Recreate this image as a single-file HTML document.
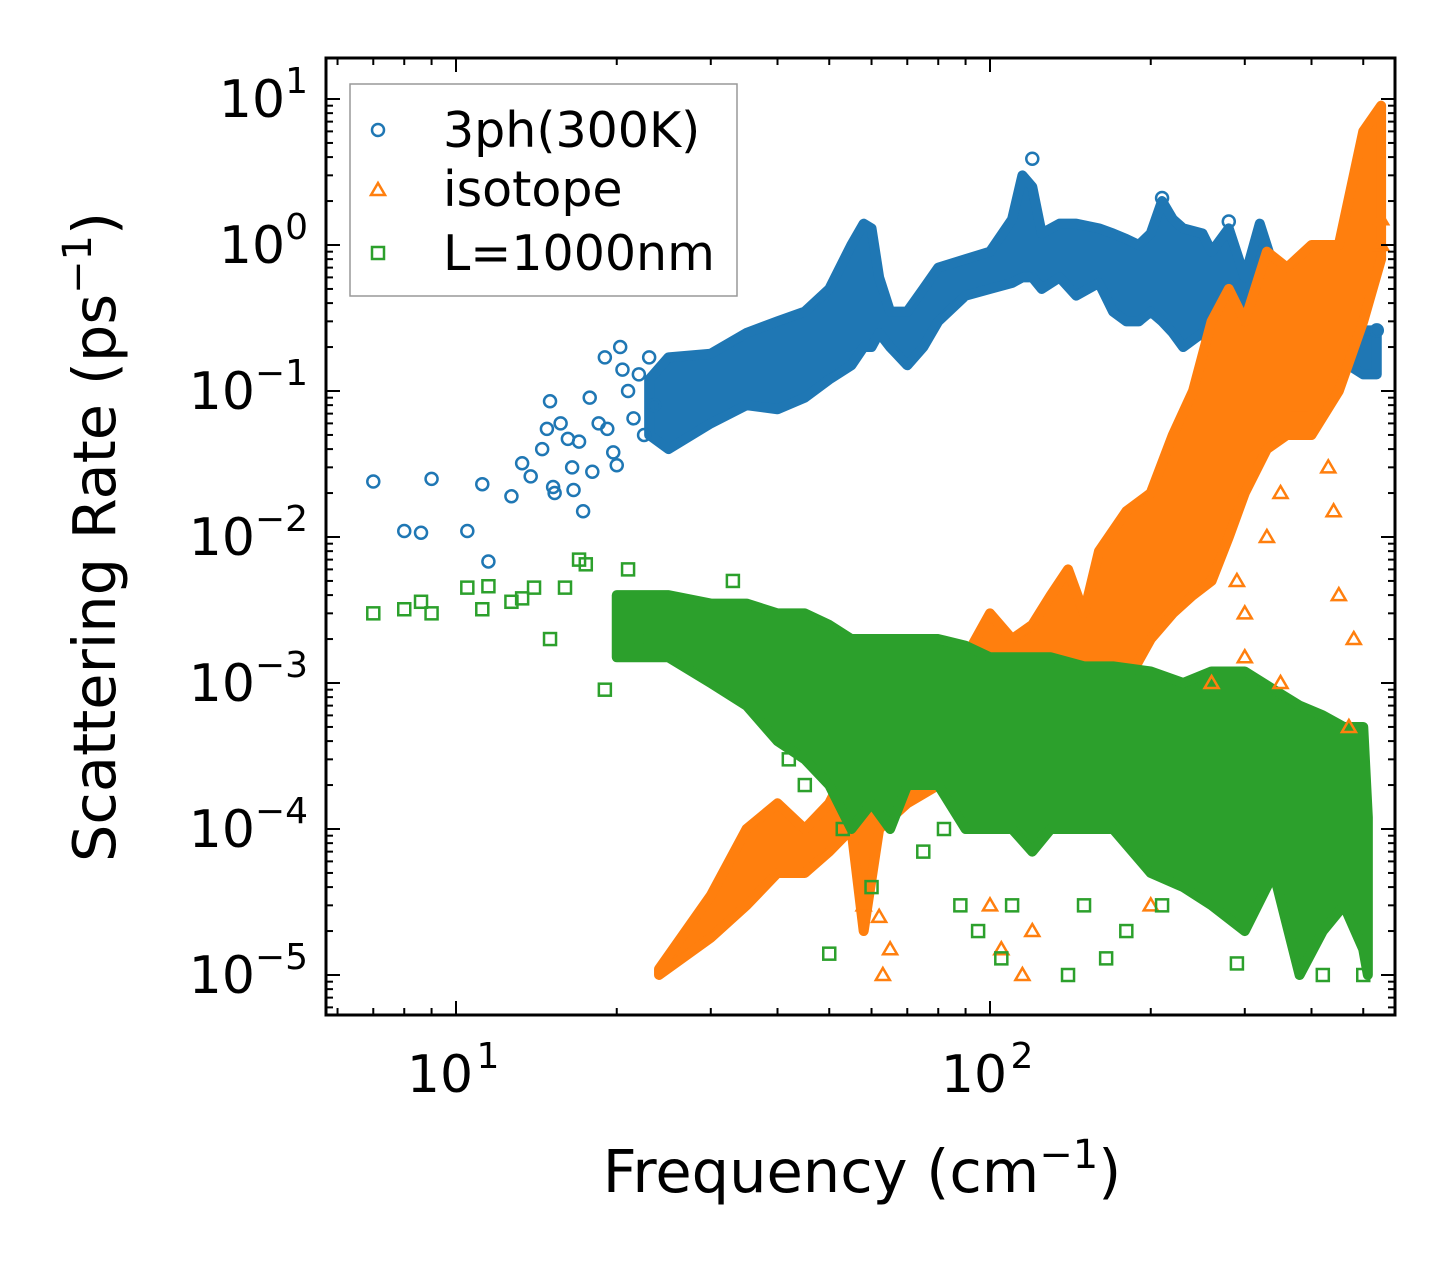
<!DOCTYPE html>
<html><head><meta charset="utf-8">
<style>
html,body{margin:0;padding:0;background:#fff;}
svg{display:block;font-family:"DejaVu Sans","Liberation Sans",sans-serif;}
</style></head>
<body>
<svg id="chart" width="1455" height="1265" viewBox="0 0 1455 1265" xmlns="http://www.w3.org/2000/svg">
<g id="bands"></g>
<g id="points"></g>
<g id="axes"></g>
<text x="862" y="1192" font-size="59" text-anchor="middle">Frequency (cm<tspan font-size="40" dy="-24">−1</tspan><tspan dy="24">)</tspan></text>
<text transform="translate(115,537) rotate(-90)" font-size="59" text-anchor="middle">Scattering Rate (ps<tspan font-size="40" dy="-24">−1</tspan><tspan dy="24">)</tspan></text>
<g>
<rect x="350" y="84" width="387" height="212" fill="#fff" stroke="#999" stroke-width="1.5"/>
<g><circle cx="378" cy="130" r="6" fill="none" stroke="#1f77b4" stroke-width="2.5"/><text x="443" y="147" font-size="49">3ph(300K)</text></g>
<g><polygon points="378,183 385,195 371,195" fill="none" stroke="#ff7f0e" stroke-width="2.5"/><text x="443" y="206" font-size="49">isotope</text></g>
<g><rect x="372" y="247" width="12" height="12" fill="none" stroke="#2ca02c" stroke-width="2.5"/><text x="443" y="270" font-size="49">L=1000nm</text></g>
</g>
</svg>
<script>
// ---- data ----
const blueBandFreq=[23,25,30,35,40,45,50,55,58,60,62,65,70,75,80,90,100,110,115,120,125,135,145,160,170,180,190,200,210,220,230,250,260,280,300,320,340,360,400,430,470,500,530];
const blueBandLo=[0.05,0.04,0.06,0.08,0.075,0.09,0.12,0.15,0.2,0.2,0.25,0.2,0.15,0.2,0.3,0.45,0.5,0.55,0.6,0.6,0.5,0.6,0.45,0.55,0.35,0.3,0.3,0.35,0.3,0.25,0.2,0.25,0.2,0.2,0.18,0.25,0.3,0.2,0.15,0.2,0.15,0.13,0.13];
const blueBandHi=[0.12,0.17,0.18,0.25,0.3,0.35,0.5,1.0,1.4,1.3,0.6,0.35,0.35,0.5,0.7,0.8,0.9,1.5,3.0,2.5,1.2,1.4,1.4,1.3,1.2,1.1,1.0,1.2,2.0,1.5,1.3,1.2,0.9,1.3,0.6,1.4,0.7,0.6,0.9,0.9,0.3,0.26,0.26];
const blueFreq=[7,8,8.6,9,10.5,11.2,11.5,12.7,13.3,13.8,14.5,14.8,15,15.2,15.3,15.7,16.2,16.5,16.6,17,17.3,17.8,18,18.5,19,19.2,19.7,20,20.3,20.5,21,21.5,22,22.5,23,23.5,120,210,280,530];
const blueRate=[0.024,0.011,0.0107,0.025,0.011,0.023,0.0068,0.019,0.032,0.026,0.04,0.055,0.085,0.022,0.02,0.06,0.047,0.03,0.021,0.045,0.015,0.09,0.028,0.06,0.17,0.055,0.038,0.031,0.2,0.14,0.1,0.065,0.13,0.05,0.17,0.08,3.9,2.1,1.45,0.26];
const orgBandFreq=[24,30,35,40,45,50,55,58,62,70,80,90,100,110,120,130,140,150,160,180,200,220,240,260,280,300,330,360,400,450,500,540];
const orgBandLo=[1e-5,1.8e-5,3e-5,5e-5,5e-5,7e-5,1e-4,2e-5,1e-4,1.5e-4,2e-4,4e-4,3e-4,1e-4,2e-4,3e-4,5e-4,8e-4,1e-3,1e-3,2e-3,3e-3,4e-3,5e-3,1e-2,2e-2,4e-2,5e-2,5e-2,0.1,0.3,0.8];
const orgBandHi=[1.1e-5,3.5e-5,1e-4,1.5e-4,1e-4,1.5e-4,3e-4,5e-4,2e-4,3e-4,1e-3,1.5e-3,3e-3,2e-3,2.5e-3,4e-3,6e-3,3e-3,8e-3,1.5e-2,2e-2,5e-2,0.1,0.3,0.5,0.3,0.9,0.7,1,1,6,9];
const orgFreq=[63,65,58,62,100,105,115,120,200,300,330,350,380,430,440,450,480,470,350,300,260,290,540,540];
const orgRate=[1e-5,1.5e-5,3e-5,2.5e-5,3e-5,1.5e-5,1e-5,2e-5,3e-5,3e-3,1e-2,2e-2,0.08,3e-2,1.5e-2,4e-3,2e-3,5e-4,1e-3,1.5e-3,1e-3,5e-3,1,1.5];
const grnBandFreq=[20,25,30,35,40,45,50,55,60,65,70,80,90,100,110,120,130,150,170,200,230,260,300,340,380,420,460,500,510];
const grnBandLo=[1.5e-3,1.5e-3,1e-3,7e-4,4e-4,3e-4,2e-4,1e-4,1.5e-4,1e-4,2e-4,2e-4,1e-4,1e-4,1e-4,7e-5,1e-4,1e-4,1e-4,5e-5,4e-5,3e-5,2e-5,5e-5,1e-5,2e-5,3e-5,1.5e-5,1e-5];
const grnBandHi=[4e-3,4e-3,3.5e-3,3.5e-3,3e-3,3e-3,2.5e-3,2e-3,2e-3,2e-3,2e-3,2e-3,1.8e-3,1.5e-3,1.5e-3,1.5e-3,1.5e-3,1.3e-3,1.3e-3,1.2e-3,1e-3,1.2e-3,1.2e-3,9e-4,7e-4,6e-4,5e-4,5e-4,1.2e-4];
const grnFreq=[7,8,8.6,9,10.5,11.2,11.5,12.7,13.3,14,15,16,17,17.5,19,21,22,33,42,45,50,53,60,75,82,88,95,105,110,140,150,165,180,210,240,290,360,420,500];
const grnRate=[3e-3,3.2e-3,3.6e-3,3e-3,4.5e-3,3.2e-3,4.6e-3,3.6e-3,3.8e-3,4.5e-3,2e-3,4.5e-3,7e-3,6.5e-3,9e-4,6e-3,2e-3,5e-3,3e-4,2e-4,1.4e-5,1e-4,4e-5,7e-5,1e-4,3e-5,2e-5,1.3e-5,3e-5,1e-5,3e-5,1.3e-5,2e-5,3e-5,4e-5,1.2e-5,3e-5,1e-5,1e-5];
const xTicks=[10,100];
const xTickLabels=["1","2"];
const yTicks=[10,1,0.1,0.01,0.001,1e-4,1e-5];
const yTickLabels=["1","0","−1","−2","−3","−4","−5"];
// ---- axes ----
const L=326,R=1395,T=58,B=1015;
const x=f=>456+(Math.log10(f)-1)*534;
const y=v=>99+(1-Math.log10(v))*146;
const NS="http://www.w3.org/2000/svg";
function mk(tag,attrs,parent){const e=document.createElementNS(NS,tag);for(const k in attrs)e.setAttribute(k,attrs[k]);parent.appendChild(e);return e;}
const bands=document.getElementById('bands'),pts=document.getElementById('points'),axes=document.getElementById('axes');
function band(fr,lo,hi,color,name){
  let d='M'+fr.map((f,i)=>x(f)+','+y(hi[i])).join('L');
  d+='L'+fr.slice().reverse().map((f,j)=>{const i=fr.length-1-j;return x(f)+','+y(lo[i]);}).join('L')+'Z';
  const p=mk('path',{d:d,fill:color,stroke:color,'stroke-width':10,'stroke-linejoin':'round'},bands);
  
  
}
band(blueBandFreq,blueBandLo,blueBandHi,'#1f77b4','band-3ph');
band(orgBandFreq,orgBandLo,orgBandHi,'#ff7f0e','band-isotope');
band(grnBandFreq,grnBandLo,grnBandHi,'#2ca02c','band-boundary');
blueFreq.forEach((f,i)=>{const c=mk('circle',{cx:x(f),cy:y(blueRate[i]),r:6,fill:'none',stroke:'#1f77b4','stroke-width':2.5},pts);
  
  });
orgFreq.forEach((f,i)=>{const cx=x(f),cy=y(orgRate[i]);const c=mk('polygon',{points:`${cx},${cy-7} ${cx+7},${cy+5} ${cx-7},${cy+5}`,fill:'none',stroke:'#ff7f0e','stroke-width':2.5},pts);
  
  });
grnFreq.forEach((f,i)=>{const c=mk('rect',{x:x(f)-6,y:y(grnRate[i])-6,width:12,height:12,fill:'none',stroke:'#2ca02c','stroke-width':2.5},pts);
  
  });
// frame
const fr=mk('rect',{x:L,y:T,width:R-L,height:B-T,fill:'none',stroke:'#000','stroke-width':3},axes);


// x ticks
for(let d=0;d<=2;d++){for(let m=1;m<10;m++){const f=m*Math.pow(10,d);const px=x(f);if(px<L||px>R)continue;const len=m===1?14:7;
  mk('line',{x1:px,x2:px,y1:B,y2:B-len,stroke:'#000','stroke-width':2},axes);
  mk('line',{x1:px,x2:px,y1:T,y2:T+len,stroke:'#000','stroke-width':2},axes);}}
xTicks.forEach((f,i)=>{const t=mk('text',{x:x(f)-16,y:1092,'font-size':52,'text-anchor':'middle'},axes);t.textContent='10';
  const s=mk('tspan',{'font-size':36,dy:-24,x:x(f)+32},t);s.textContent=xTickLabels[i];
  
  });
// y ticks
for(let d=-6;d<=1;d++){for(let m=1;m<10;m++){const v=m*Math.pow(10,d);const py=y(v);if(py<T||py>B)continue;const len=m===1?14:7;
  mk('line',{x1:L,x2:L+len,y1:py,y2:py,stroke:'#000','stroke-width':2},axes);
  mk('line',{x1:R,x2:R-len,y1:py,y2:py,stroke:'#000','stroke-width':2},axes);}}
yTicks.forEach((v,i)=>{const t=mk('text',{x:308,y:y(v)+18,'font-size':52,'text-anchor':'end'},axes);t.textContent='10';
  const s=mk('tspan',{'font-size':36,dy:-24},t);s.textContent=yTickLabels[i];
  
  });
</script>
</body></html>
